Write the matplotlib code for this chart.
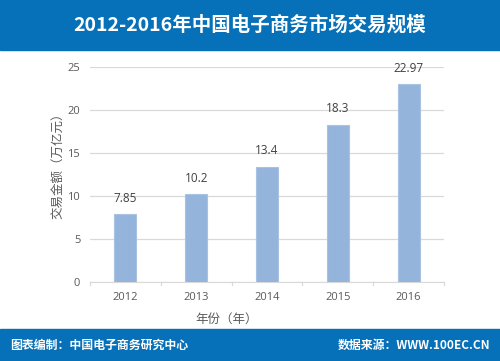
import matplotlib.pyplot as plt
from matplotlib.patches import Rectangle

plt.rcParams['font.family'] = ['Noto Sans CJK SC', 'DejaVu Sans']

# 数据
years = ["2012", "2013", "2014", "2015", "2016"]
values = [7.85, 10.2, 13.4, 18.3, 22.97]
value_labels = ["7.85", "10.2", "13.4", "18.3", "22.97"]
y_ticks = [0, 5, 10, 15, 20, 25]

W, H = 500, 361
band_blue = "#0670B8"
bar_color = "#95B4DC"

fig = plt.figure(figsize=(W / 100, H / 100), dpi=100)
fig.patch.set_facecolor("white")

# header / footer bands
fig.add_artist(Rectangle((0, 1 - 50 / H), 1, 50 / H, transform=fig.transFigure,
                         color=band_blue, zorder=0))
fig.add_artist(Rectangle((0, 0), 1, 32 / H, transform=fig.transFigure,
                         color=band_blue, zorder=0))
fig.text(0.5, 1 - 25 / H, "2012-2016年中国电子商务市场交易规模", color="white",
         fontsize=14, fontweight="bold", ha="center", va="center")
fig.text(10 / W, 16 / H, "图表编制：中国电子商务研究中心", color="white",
         fontsize=8.6, fontweight="bold", ha="left", va="center")
fig.text(490 / W, 16 / H, "数据来源：WWW.100EC.CN", color="white",
         fontsize=8.6, fontweight="bold", ha="right", va="center")

# axes
left, right = 90 / W, 444 / W
bottom, top = 1 - 282 / H, 1 - 67 / H
ax = fig.add_axes([left, bottom, right - left, top - bottom])
x = list(range(len(years)))
bars = ax.bar(x, values, width=0.31, color=bar_color, edgecolor="#A9C2E3",
              linewidth=0.8, zorder=3)
for xi, v, lab in zip(x, values, value_labels):
    ax.text(xi, v + 1.1, lab, ha="center", va="bottom", fontsize=8.5,
            color="#404040", family=["Open Sans", "DejaVu Sans"])

ax.set_xlim(-0.5, len(years) - 0.5)
ax.set_ylim(0, 25)
ax.set_yticks(y_ticks)
ax.set_xticks(x)
ax.set_xticklabels(years)
ax.grid(axis="y", color="#D9D9D9", linewidth=0.9, zorder=0)
for s in ["top", "right", "left"]:
    ax.spines[s].set_visible(False)
ax.spines["bottom"].set_color("#D9D9D9")
ax.tick_params(axis="y", length=0, labelsize=8, labelcolor="#595959", pad=7)
ax.tick_params(axis="x", length=0, labelsize=8, labelcolor="#595959", pad=7)
for t in ax.get_xticklabels() + ax.get_yticklabels():
    t.set_family(["Open Sans", "DejaVu Sans"])
# small ticks between categories on the x axis
for b in [-0.5, 0.5, 1.5, 2.5, 3.5, 4.5]:
    ax.plot([b, b], [0, -0.4], color="#D9D9D9", linewidth=0.9, clip_on=False)

fig.text(58 / W, 1 - 163 / H, "交易金额（万亿元）", rotation=90, fontsize=9,
         color="#595959", ha="center", va="center")
fig.text(227 / W, 1 - 319 / H, "年份（年）", fontsize=9, color="#595959",
         ha="center", va="center")

fig.savefig("out.png", dpi=100)
